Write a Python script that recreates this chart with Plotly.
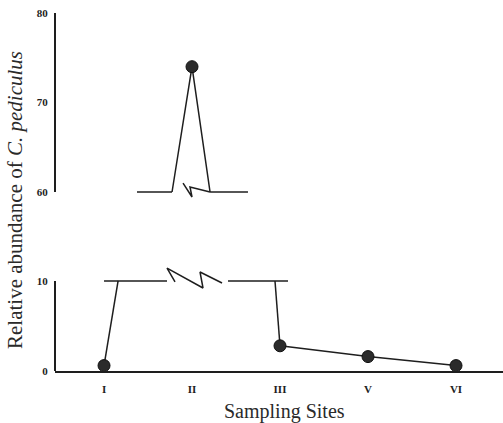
import plotly.graph_objects as go

# ---- data ----
sites = ["I", "II", "III", "V", "VI"]
site_pos = [1, 2, 3, 4, 5]
abundance = [0.6, 74, 2.8, 1.6, 0.6]
upper_ticks = [60, 70, 80]
lower_ticks = [0, 10]

INK = "#1e1e1e"
SERIF = "Liberation Serif, Times New Roman, serif"

fig = go.Figure()

p = dict(zip(sites, site_pos))
v = dict(zip(sites, abundance))

line_style = dict(color=INK, width=1.5)

# ---- lower panel (0-10) ----
fig.add_trace(go.Scatter(x=[p["III"], p["V"], p["VI"]], y=[v["III"], v["V"], v["VI"]],
                         mode="lines", line=line_style, xaxis="x", yaxis="y",
                         hoverinfo="skip", showlegend=False))
fig.add_trace(go.Scatter(x=[p["I"], p["I"] + 0.16], y=[v["I"], 10],
                         mode="lines", line=line_style, xaxis="x", yaxis="y", showlegend=False))
fig.add_trace(go.Scatter(x=[p["III"] - 0.057, p["III"]], y=[10, v["III"]],
                         mode="lines", line=line_style, xaxis="x", yaxis="y", showlegend=False))
fig.add_trace(go.Scatter(x=[p["I"], p["I"] + 0.716], y=[10, 10],
                         mode="lines", line=line_style, xaxis="x", yaxis="y", showlegend=False))
fig.add_trace(go.Scatter(x=[p["II"] + 0.409, p["II"] + 1.091], y=[10, 10],
                         mode="lines", line=line_style, xaxis="x", yaxis="y", showlegend=False))
fig.add_trace(go.Scatter(x=[p["I"] + 0.807, p["I"] + 0.716, p["II"] + 0.125, p["II"] + 0.091, p["II"] + 0.341],
                         y=[9.89, 11.44, 9.22, 11.0, 9.78],
                         mode="lines", line=line_style, xaxis="x", yaxis="y", showlegend=False))
low_sites = ["I", "III", "V", "VI"]
fig.add_trace(go.Scatter(x=[p[s] for s in low_sites], y=[v[s] for s in low_sites],
                         mode="markers", cliponaxis=False,
                         marker=dict(size=12, color="#2b2b2b", line=dict(color="#111", width=1)),
                         xaxis="x", yaxis="y", showlegend=False))

# ---- upper panel (60-80) ----
fig.add_trace(go.Scatter(x=[p["II"] - 0.227, p["II"], p["II"] + 0.205], y=[60, v["II"], 60],
                         mode="lines", line=line_style, xaxis="x2", yaxis="y2", showlegend=False))
fig.add_trace(go.Scatter(x=[p["II"] - 0.625, p["II"] - 0.227], y=[60, 60],
                         mode="lines", line=line_style, xaxis="x2", yaxis="y2", showlegend=False))
fig.add_trace(go.Scatter(x=[p["II"] + 0.205, p["II"] + 0.636], y=[60, 60],
                         mode="lines", line=line_style, xaxis="x2", yaxis="y2", showlegend=False))
fig.add_trace(go.Scatter(x=[p["II"] - 0.102, p["II"], p["II"] - 0.023, p["II"] + 0.205],
                         y=[61.0, 59.44, 60.56, 60],
                         mode="lines", line=line_style, xaxis="x2", yaxis="y2", showlegend=False))
fig.add_trace(go.Scatter(x=[p["II"]], y=[v["II"]], mode="markers", cliponaxis=False,
                         marker=dict(size=12, color="#2b2b2b", line=dict(color="#111", width=1)),
                         xaxis="x2", yaxis="y2", showlegend=False))

xr = [0.443, 5.534]
tickfont = dict(family=SERIF, size=11, color=INK, weight="bold")

fig.update_layout(
    width=503, height=423,
    margin=dict(l=55, r=0, t=13, b=52),
    paper_bgcolor="white", plot_bgcolor="white",
    showlegend=False,
    xaxis=dict(domain=[0, 1], range=xr, tickmode="array", tickvals=site_pos, ticktext=sites,
               showgrid=False, zeroline=False, showline=True, linecolor=INK, linewidth=2,
               ticks="outside", ticklen=7, tickcolor="rgba(0,0,0,0)", tickfont=tickfont),
    yaxis=dict(domain=[0, 0.3017], range=[0, 12], tickmode="array", tickvals=lower_ticks,
               showgrid=False, zeroline=False, showline=False,
               ticks="outside", ticklen=4, tickcolor="rgba(0,0,0,0)", tickfont=tickfont),
    xaxis2=dict(domain=[0, 1], range=xr, anchor="y2", visible=False),
    yaxis2=dict(domain=[0.45, 1], range=[58, 80], anchor="x2", tickmode="array", tickvals=upper_ticks,
                showgrid=False, zeroline=False, showline=False,
                ticks="outside", ticklen=4, tickcolor="rgba(0,0,0,0)", tickfont=tickfont),
    shapes=[
        dict(type="line", xref="x domain", yref="y", x0=0, x1=0, y0=0, y1=10,
             line=dict(color=INK, width=2)),
        dict(type="line", xref="x2 domain", yref="y2", x0=0, x1=0, y0=60, y1=80,
             line=dict(color=INK, width=2)),
    ],
    annotations=[
        dict(text="Relative abundance of <i>C. pediculus</i>", xref="paper", yref="paper",
             x=-0.089, y=0.478, textangle=-90, showarrow=False,
             font=dict(family=SERIF, size=21, color="#2a2a2a"), xanchor="center", yanchor="middle"),
        dict(text="Sampling Sites", xref="paper", yref="paper", x=0.513, y=-0.112,
             showarrow=False, font=dict(family=SERIF, size=20, color="#2a2a2a"),
             xanchor="center", yanchor="middle"),
    ],
)

fig.write_html("out.html", config={"displayModeBar": False},
               post_script="document.body.style.margin='0';document.body.style.overflow='hidden';")
